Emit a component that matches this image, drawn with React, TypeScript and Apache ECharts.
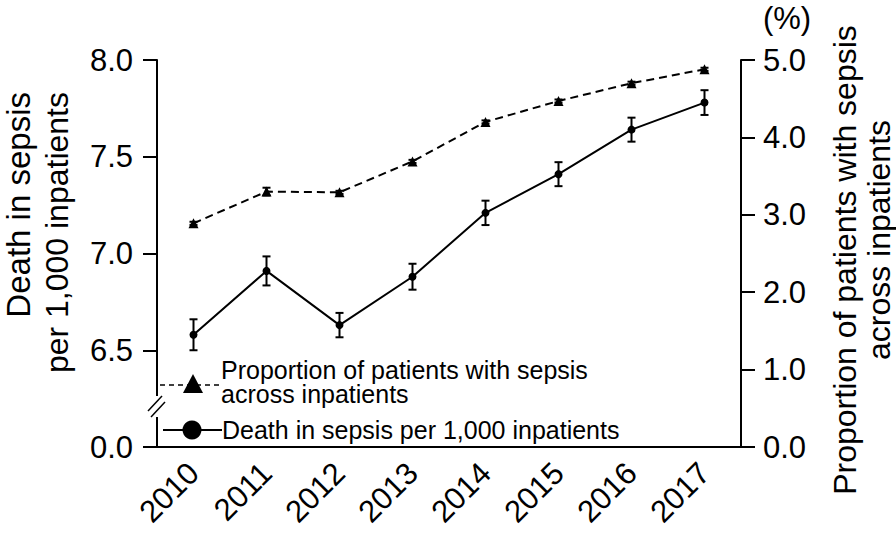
import React, { useEffect, useRef } from "react";
import * as echarts from "echarts";

const years = ["2010", "2011", "2012", "2013", "2014", "2015", "2016", "2017"];
const deathRate = [6.58, 6.91, 6.63, 6.88, 7.21, 7.41, 7.64, 7.78];
const deathErr = [0.08, 0.075, 0.063, 0.067, 0.063, 0.062, 0.062, 0.064];
const proportion = [2.89, 3.3, 3.29, 3.69, 4.2, 4.47, 4.7, 4.88];
const proportionErr = [0.02, 0.05, 0.02, 0.02, 0.02, 0.02, 0.02, 0.02];
const leftTicks = ["0.0", "6.5", "7.0", "7.5", "8.0"];

const FONT = "'Liberation Sans', Arial, Helvetica, sans-serif";

function errorBarSeries(vals: number[], errs: number[], yAxisIndex: number) {
  return {
    type: "custom",
    yAxisIndex,
    z: 5,
    silent: true,
    data: vals.map((v, i) => [i, v - errs[i], v + errs[i]]),
    encode: { x: 0, y: [1, 2] },
    renderItem: (params: any, api: any) => {
      const lo = api.coord([api.value(0), api.value(1)]);
      const hi = api.coord([api.value(0), api.value(2)]);
      const w = 4;
      const st = { stroke: "#000", lineWidth: 2 };
      return {
        type: "group",
        children: [
          { type: "line", shape: { x1: lo[0], y1: lo[1], x2: hi[0], y2: hi[1] }, style: st },
          { type: "line", shape: { x1: lo[0] - w, y1: lo[1], x2: lo[0] + w, y2: lo[1] }, style: st },
          { type: "line", shape: { x1: hi[0] - w, y1: hi[1], x2: hi[0] + w, y2: hi[1] }, style: st },
        ],
      };
    },
  };
}

export default function App() {
  const ref = useRef<HTMLDivElement>(null);
  useEffect(() => {
    if (!ref.current) return;
    const chart = echarts.init(ref.current, null, { renderer: "svg" });
    const axisLineStyle = { color: "#000", width: 2 };
    const labelStyle = { color: "#000", fontSize: 31, fontFamily: FONT };
    chart.setOption({
      animation: false,
      backgroundColor: "#fff",
      textStyle: { fontFamily: FONT, color: "#000" },
      grid: { left: 157, right: 155, top: 60, bottom: 91, containLabel: false },
      xAxis: {
        type: "category",
        data: years,
        boundaryGap: true,
        axisLine: { lineStyle: axisLineStyle },
        axisTick: { alignWithLabel: true, length: 15, lineStyle: axisLineStyle },
        axisLabel: { ...labelStyle, fontSize: 31, rotate: 45, margin: 21 },
        splitLine: { show: false },
      },
      yAxis: [
        {
          type: "value",
          position: "left",
          min: 6,
          max: 8,
          interval: 0.5,
          axisLine: { show: true, lineStyle: axisLineStyle },
          axisTick: { show: true, length: 14, lineStyle: axisLineStyle },
          axisLabel: {
            ...labelStyle,
            margin: 24,
            formatter: (v: number) => leftTicks[Math.round((v - 6) / 0.5)],
          },
          splitLine: { show: false },
        },
        {
          type: "value",
          position: "right",
          min: 0,
          max: 5,
          interval: 1,
          axisLine: { show: true, lineStyle: axisLineStyle },
          axisTick: { show: true, length: 14, lineStyle: axisLineStyle },
          axisLabel: { ...labelStyle, margin: 22, formatter: (v: number) => v.toFixed(1) },
          splitLine: { show: false },
        },
      ],
      series: [
        {
          name: "Proportion of patients with sepsis across inpatients",
          type: "line",
          yAxisIndex: 1,
          data: proportion,
          symbol: "triangle",
          symbolSize: 10,
          itemStyle: { color: "#000" },
          lineStyle: { color: "#000", width: 2, type: [8, 5] },
          z: 4,
        },
        errorBarSeries(proportion, proportionErr, 1),
        {
          name: "Death in sepsis per 1,000 inpatients",
          type: "line",
          yAxisIndex: 0,
          data: deathRate,
          symbol: "circle",
          symbolSize: 8,
          itemStyle: { color: "#000" },
          lineStyle: { color: "#000", width: 2 },
          z: 4,
        },
        errorBarSeries(deathRate, deathErr, 0),
      ],
      graphic: [
        // axis break
        { type: "rect", z: 100, shape: { x: 150, y: 396, width: 14, height: 21 }, style: { fill: "#fff" } },
        { type: "line", z: 101, shape: { x1: 148, y1: 411, x2: 162, y2: 396 }, style: { stroke: "#000", lineWidth: 1.5 } },
        { type: "line", z: 101, shape: { x1: 151, y1: 417, x2: 165, y2: 402 }, style: { stroke: "#000", lineWidth: 1.5 } },
        // legend
        { type: "line", z: 100, shape: { x1: 160, y1: 385, x2: 222, y2: 385 }, style: { stroke: "#000", lineWidth: 1.5, lineDash: [5, 4] } },
        { type: "polygon", z: 101, shape: { points: [[193, 374], [183, 393], [203, 393]] }, style: { fill: "#000" } },
        { type: "text", z: 100, x: 221, y: 370, style: { text: "Proportion of patients with sepsis", font: `25px ${FONT}`, lineHeight: 22, fill: "#000", verticalAlign: "middle", align: "left" } },
        { type: "text", z: 100, x: 221, y: 394, style: { text: "across inpatients", font: `25px ${FONT}`, lineHeight: 22, fill: "#000", verticalAlign: "middle", align: "left" } },
        { type: "line", z: 100, shape: { x1: 163, y1: 430, x2: 222, y2: 430 }, style: { stroke: "#000", lineWidth: 2 } },
        { type: "circle", z: 101, shape: { cx: 192, cy: 430, r: 9.5 }, style: { fill: "#000" } },
        { type: "text", z: 100, x: 222, y: 430, style: { text: "Death in sepsis per 1,000 inpatients", font: `25px ${FONT}`, fill: "#000", verticalAlign: "middle", align: "left" } },
        // left title
        { type: "text", x: 18, y: 92, rotation: Math.PI / 2, style: { text: "Death in sepsis", font: `33px ${FONT}`, fill: "#000", align: "right", verticalAlign: "middle" } },
        { type: "text", x: 57, y: 92, rotation: Math.PI / 2, style: { text: "per 1,000 inpatients", font: `32px ${FONT}`, fill: "#000", align: "right", verticalAlign: "middle" } },
        // right title
        { type: "text", x: 845, y: 260, rotation: Math.PI / 2, style: { text: "Proportion of patients with sepsis", font: `32px ${FONT}`, fill: "#000", align: "center", verticalAlign: "middle" } },
        { type: "text", x: 879, y: 240, rotation: Math.PI / 2, style: { text: "across inpatients", font: `32px ${FONT}`, fill: "#000", align: "center", verticalAlign: "middle" } },
        // unit
        { type: "text", x: 787, y: 18, style: { text: "(%)", font: `31px ${FONT}`, fill: "#000", align: "center", verticalAlign: "middle" } },
      ],
    });
    return () => chart.dispose();
  }, []);
  return <div ref={ref} style={{ position: "fixed", left: 0, top: 0, width: 896, height: 538, background: "#fff" }} />;
}
